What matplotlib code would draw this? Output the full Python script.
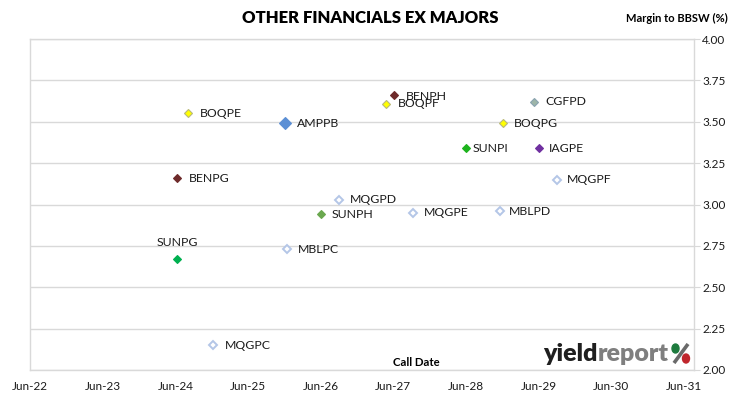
import matplotlib
matplotlib.use("Agg")
import matplotlib.pyplot as plt
from matplotlib.patches import Ellipse
from matplotlib.lines import Line2D
import pandas as pd

plt.rcParams['font.family'] = ['Lato', 'DejaVu Sans']

# ---- data ----
names = ["BOQPE", "AMPPB", "BENPH", "BOQPF", "CGFPD", "BOQPG", "SUNPI", "IAGPE",
         "BENPG", "MQGPF", "MQGPD", "SUNPH", "MQGPE", "MBLPD", "SUNPG", "MBLPC", "MQGPC"]
call_dates = ["2024-08-05", "2025-12-06", "2027-06-03", "2027-04-26", "2029-05-10",
              "2028-12-03", "2028-05-30", "2029-06-01", "2024-06-07", "2029-09-01",
              "2026-09-01", "2026-06-03", "2027-09-06", "2028-11-20", "2024-06-11",
              "2025-12-16", "2024-12-05"]
margins = [3.55, 3.49, 3.66, 3.61, 3.62, 3.49, 3.34, 3.34,
           3.16, 3.15, 3.03, 2.94, 2.95, 2.96, 2.67, 2.73, 2.15]
y_ticks = [2.00, 2.25, 2.50, 2.75, 3.00, 3.25, 3.50, 3.75, 4.00]
x_tick_years = list(range(2022, 2032))

# ---- styles ----
styles = {
    "BOQPE": dict(fc="#FFFF00", ec="#B8B87A", s=6, lw=0.8),
    "BOQPF": dict(fc="#FFFF00", ec="#B8B87A", s=6, lw=0.8),
    "BOQPG": dict(fc="#FFFF00", ec="#B8B87A", s=6, lw=0.8),
    "AMPPB": dict(fc="#5B8FD5", ec="#5B8FD5", s=8, lw=0.8),
    "BENPH": dict(fc="#6E2B2B", ec="#6E2B2B", s=6, lw=0.8),
    "BENPG": dict(fc="#6E2B2B", ec="#6E2B2B", s=6, lw=0.8),
    "CGFPD": dict(fc="#9DB5A8", ec="#8AA3B0", s=6, lw=0.8),
    "SUNPI": dict(fc="#1DB31D", ec="#1DB31D", s=6, lw=0.8),
    "SUNPG": dict(fc="#00B050", ec="#00B050", s=6, lw=0.8),
    "SUNPH": dict(fc="#6AA84F", ec="#6AA84F", s=6, lw=0.8),
    "IAGPE": dict(fc="#7030A0", ec="#7030A0", s=6, lw=0.8),
}
hollow = dict(fc="white", ec="#B4C6E7", s=6, lw=1.4)
label_offsets = {  # (dx, dy) in pixels
    "BOQPE": (11, 0), "AMPPB": (11, 0), "BENPH": (12, -1), "BOQPF": (12, 0),
    "CGFPD": (11, 0), "BOQPG": (11, 0), "SUNPI": (7, 0), "IAGPE": (10, 0),
    "BENPG": (12, 0), "MQGPF": (10, 0), "MQGPD": (11, 0), "SUNPH": (11, 0),
    "MQGPE": (11, 0), "MBLPD": (8, 0), "SUNPG": (0, 11), "MBLPC": (10, 0),
    "MQGPC": (12, 0),
}

W, H, DPI = 730, 399, 100
fig = plt.figure(figsize=(W / DPI, H / DPI), dpi=DPI)
ax = fig.add_axes([30 / W, 1 - 370 / H, (694 - 30) / W, (370 - 39) / H])

dates = pd.to_datetime(call_dates)
text_color = "#1a1a1a"
for n, d, m in zip(names, dates, margins):
    st = styles.get(n, hollow)
    ax.plot([d], [m], marker="D", linestyle="none", markersize=st["s"] * 0.75,
            markerfacecolor=st["fc"], markeredgecolor=st["ec"],
            markeredgewidth=st["lw"], zorder=3)
    dx, dy = label_offsets[n]
    if n == "SUNPG":
        ax.annotate(n, (d, m), xytext=(dx * 0.72, dy * 0.72), textcoords="offset points",
                    ha="center", va="bottom", fontsize=8.8, color=text_color)
    else:
        ax.annotate(n, (d, m), xytext=(dx * 0.72, dy * 0.72), textcoords="offset points",
                    ha="left", va="center", fontsize=8.8, color=text_color)

ax.set_ylim(2.0, 4.0)
ax.set_yticks(y_ticks)
ax.set_yticklabels([f"{v:.2f}" for v in y_ticks])
ax.yaxis.tick_right()
ax.tick_params(axis="y", length=4, color="#D9D9D9", pad=2, labelsize=8.5,
               labelcolor=text_color)

xt = [pd.Timestamp(f"{y}-06-01") for y in x_tick_years]
ax.set_xticks(xt)
ax.set_xticklabels([t.strftime("Jun-%y") for t in xt])
ax.set_xlim(pd.Timestamp("2022-06-01"), pd.Timestamp("2031-07-21"))
ax.tick_params(axis="x", length=0, pad=8, labelsize=8.5, labelcolor=text_color)

ax.grid(axis="y", color="#D9D9D9", linewidth=1)
ax.set_axisbelow(True)
for sp in ax.spines.values():
    sp.set_color("#D9D9D9")
    sp.set_linewidth(1)

fig.text(370 / W, 1 - 18 / H, "OTHER FINANCIALS EX MAJORS", ha="center", va="center",
         fontsize=12, fontweight="heavy", color="black")
fig.text(728 / W, 1 - 18 / H, "Margin to BBSW (%)", ha="right", va="center",
         fontsize=8, fontweight="bold", color="black")
fig.text(416 / W, 1 - 363 / H, "Call Date", ha="center", va="center",
         fontsize=8.2, fontweight="bold", color="black")

# logo
t1 = fig.text(543 / W, 1 - 361 / H, "yield", ha="left", va="baseline",
              fontsize=18, fontweight="heavy", color="#1f1f1f")
fig.canvas.draw()
bb = t1.get_window_extent()
fig.text(bb.x1 / W, 1 - 361 / H, "report", ha="left", va="baseline",
         fontsize=18, fontweight="heavy", color="#7f7f7f")
fig.add_artist(Line2D([688 / W, 674 / W], [1 - 344 / H, 1 - 363 / H],
                      transform=fig.transFigure, color="#6a6a6a", linewidth=2.6,
                      solid_capstyle="butt"))
fig.add_artist(Ellipse((675.5 / W, 1 - 348.5 / H), 7 / W, 9 / H, transform=fig.transFigure,
                       color="#1E7B3E"))
fig.add_artist(Ellipse((686 / W, 1 - 358.5 / H), 7 / W, 9 / H, transform=fig.transFigure,
                       color="#C0262D"))

fig.savefig("out.png", dpi=DPI)
